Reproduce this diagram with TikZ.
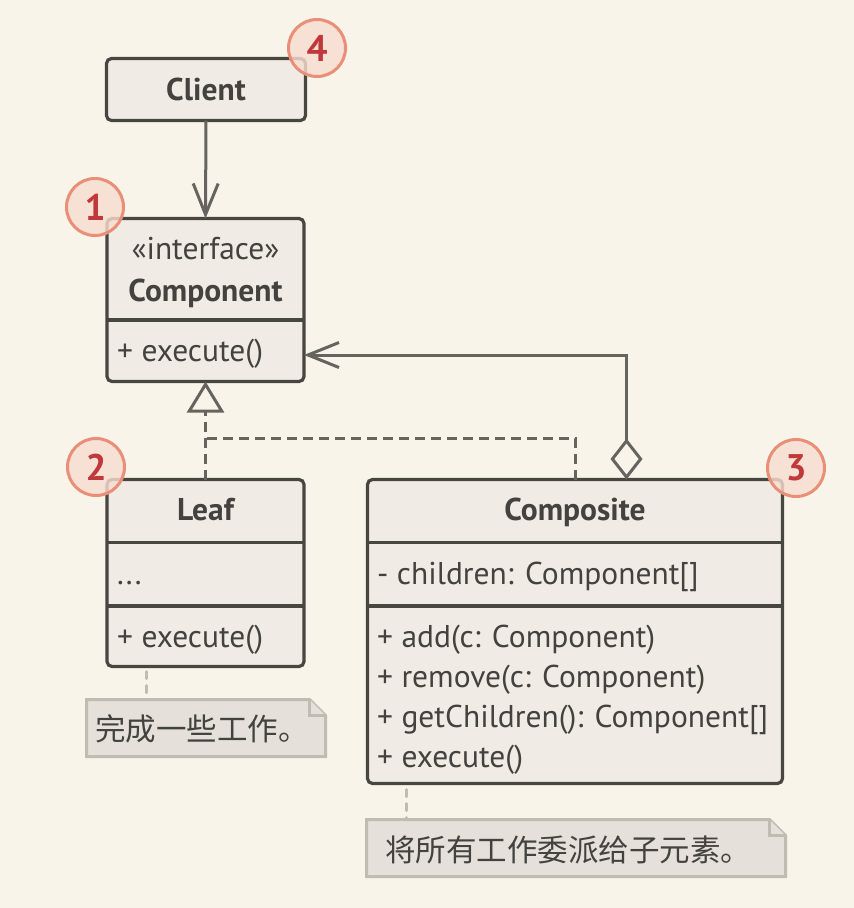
\documentclass[tikz,border=0pt]{standalone}
\usepackage{fontspec}
\setmainfont{PT Sans}
\newfontfamily\cjk{Noto Sans CJK SC}
\usetikzlibrary{arrows.meta,calc}
\definecolor{bg}{RGB}{248,244,234}
\definecolor{boxfill}{RGB}{240,236,229}
\definecolor{boxline}{RGB}{72,70,65}
\definecolor{conline}{RGB}{102,100,95}
\definecolor{txtcol}{RGB}{68,66,62}
\definecolor{notefill}{RGB}{229,225,218}
\definecolor{noteline}{RGB}{192,188,178}
\definecolor{badgefill}{RGB}{247,221,208}
\definecolor{badgeline}{RGB}{234,143,119}
\definecolor{badgetext}{RGB}{192,56,58}
\begin{document}
\begin{tikzpicture}[x=1pt,y=-1pt,
  umlbox/.style={draw=boxline, fill=boxfill, line width=3.2pt, rounded corners=5pt,
    rectangle, inner sep=0pt, outer sep=0pt},
  divider/.style={draw=boxline, line width=3.5pt},
  txt/.style={text=txtcol, inner sep=0pt, font=\fontsize{31.5}{36}\selectfont},
  btxt/.style={txt, font=\bfseries\fontsize{31.5}{36}\selectfont},
  conn/.style={draw=conline, line width=3pt},
  dashconn/.style={conn, dash pattern=on 10pt off 6pt},
  barb/.tip={Straight Barb[length=31pt, width=25pt, line width=3pt]},
  notebox/.style={rectangle, inner sep=0pt, outer sep=0pt},
  noteshape/.style={draw=noteline, fill=notefill, line width=3pt, line join=miter},
  notetxt/.style={text=txtcol, inner sep=0pt, font=\cjk\fontsize{30.5}{34}\selectfont},
  noteconn/.style={draw=noteline, line width=3pt, dash pattern=on 7pt off 7pt, line cap=round},
  badge/.style={circle, minimum size=57pt, inner sep=0pt, fill=badgefill, fill opacity=0.82,
    text opacity=1, draw=badgeline, draw opacity=1, line width=3pt, text=badgetext,
    font=\bfseries\fontsize{37}{37}\selectfont}
]
\fill[bg] (0,0) rectangle (854,908);
\useasboundingbox (0,0) rectangle (854,908);

% Client
\node[umlbox, minimum width=199pt, minimum height=62pt] (client) at (206,89.5) {};
\node[btxt, anchor=base] (clientname) at (206,100) {Client};

% Component
\node[umlbox, minimum width=197pt, minimum height=163pt] (component) at (205.5,300) {};
\draw[divider] (component.west |- 0,320) -- (component.east |- 0,320);
\node[txt, anchor=base] (compstereo) at (205.5,259) {«interface»};
\node[btxt, anchor=base] (compname) at (205.5,301) {Component};
\node[txt, anchor=base west] (compexec) at (117,361) {+ execute()};

% Leaf
\node[umlbox, minimum width=197pt, minimum height=187pt] (leaf) at (205.5,573) {};
\draw[divider] (leaf.west |- 0,542.5) -- (leaf.east |- 0,542.5);
\draw[divider] (leaf.west |- 0,606) -- (leaf.east |- 0,606);
\node[btxt, anchor=base] (leafname) at (205.5,520) {Leaf};
\node[txt, anchor=base west] (leafdots) at (117,584) {...};
\node[txt, anchor=base west] (leafexec) at (117,647) {+ execute()};

% Composite
\node[umlbox, minimum width=415pt, minimum height=304pt] (composite) at (575,631.5) {};
\draw[divider] (composite.west |- 0,542.5) -- (composite.east |- 0,542.5);
\draw[divider] (composite.west |- 0,606) -- (composite.east |- 0,606);
\node[btxt, anchor=base] (compositename) at (575,520) {Composite};
\node[txt, anchor=base west] (children) at (377,584) {- children: Component[]};
\node[txt, anchor=base west] (madd) at (377,647) {+ add(c: Component)};
\node[txt, anchor=base west] (mremove) at (377,687) {+ remove(c: Component)};
\node[txt, anchor=base west] (mget) at (377,727) {+ getChildren(): Component[]};
\node[txt, anchor=base west] (mexec) at (377,767) {+ execute()};

% Notes
\node[notebox, minimum width=239pt, minimum height=57pt] (note1) at (206,728) {};
\draw[noteshape] (note1.north west) -- ($(note1.north east)+(-16,0)$) -- ($(note1.north east)+(0,16)$)
  -- (note1.south east) -- (note1.south west) -- cycle;
\draw[noteshape] ($(note1.north east)+(-16,0)$) -- ($(note1.north east)+(-16,16)$) -- ($(note1.north east)+(0,16)$);
\node[notetxt, anchor=west] (note1txt) at (95,729) {完成一些工作。};

\node[notebox, minimum width=419pt, minimum height=57pt] (note2) at (576,848) {};
\draw[noteshape] (note2.north west) -- ($(note2.north east)+(-16,0)$) -- ($(note2.north east)+(0,16)$)
  -- (note2.south east) -- (note2.south west) -- cycle;
\draw[noteshape] ($(note2.north east)+(-16,0)$) -- ($(note2.north east)+(-16,16)$) -- ($(note2.north east)+(0,16)$);
\node[notetxt, anchor=west] (note2txt) at (385,850) {将所有工作委派给子元素。};

\draw[noteconn] (146,0 |- leaf.south) ++(0,5) -- (146,0 |- note1.north);
\draw[noteconn] (406,0 |- composite.south) ++(0,6) -- (406,0 |- note2.north);

% Connectors
\draw[conn, -{barb}] (client.south) -- (component.north);
\draw[dashconn, -{Triangle[open, length=31pt, width=37pt, line width=3pt]}] (leaf.north) -- (component.south);
\draw[dashconn] (composite.north) |- (leaf.north |- 0,438);
\coordinate (aggstart) at ($(composite.north)+(51.5,0)$);
\draw[conn, {Diamond[open, length=41pt, width=32pt, line width=3pt]}-{barb}]
  (aggstart) |- (component.east |- 0,355);

% Badges
\node[badge] (b4) at (317,48) {4};
\node[badge] (b1) at (95,207) {1};
\node[badge] (b2) at (96,467) {2};
\node[badge] (b3) at (796,468) {3};
\end{tikzpicture}
\end{document}
